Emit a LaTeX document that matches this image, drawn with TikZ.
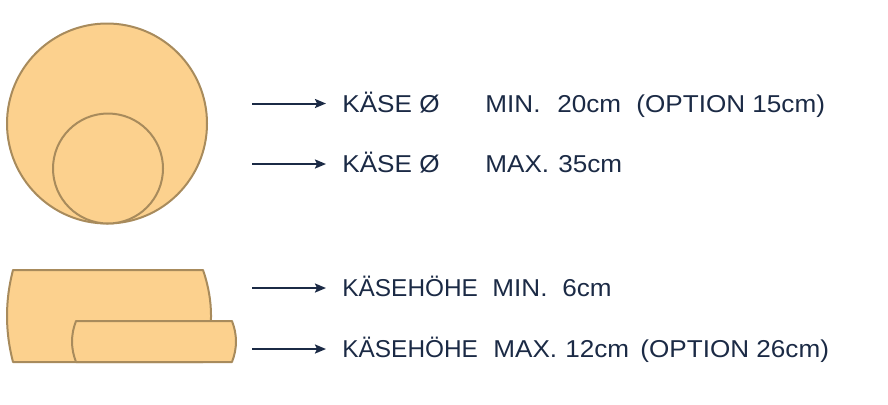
\documentclass[tikz,border=0pt]{standalone}
\usepackage{fontspec}
\setmainfont{Liberation Sans}
\usetikzlibrary{arrows.meta}
\definecolor{cheese}{HTML}{FCD18E}
\definecolor{rind}{HTML}{A88B5C}
\definecolor{ink}{HTML}{1B2A45}
\newcommand{\hs}[1]{\scalebox{1.07}[1]{#1}}
\begin{document}
\begin{tikzpicture}[x=0.5pt,y=-0.5pt,
  cheeseshape/.style={fill=cheese,draw=rind,line width=1pt,line join=round},
  lbl/.style={anchor=base west,inner sep=0pt,text=ink,font=\fontsize{12.2}{14}\selectfont},
  arr/.style={draw=ink,line width=1pt,-{Stealth[length=5.5pt,width=4.5pt,inset=1pt]}}]
\useasboundingbox (0,0) rectangle (888,404);
% circles
\draw[cheeseshape] (107,123.5) circle[radius=50pt];
\draw[cheeseshape] (108,168.5) circle[radius=27.5pt];
% big cylinder side view
\draw[cheeseshape] (13,270) -- (203,270)
  .. controls (213.7,300.7) and (213.7,331.3) .. (203,362)
  -- (13,362)
  .. controls (5,331.3) and (5,300.7) .. cycle;
% small cylinder side view
\draw[cheeseshape] (76,321) -- (232,321)
  .. controls (237.3,334.7) and (237.3,348.3) .. (232,362)
  -- (76,362)
  .. controls (70.7,348.3) and (70.7,334.7) .. cycle;
% arrows
\coordinate (s1) at (252,103.5); \coordinate (e1) at (326,103.5);
\coordinate (s2) at (252,164);   \coordinate (e2) at (326,164);
\coordinate (s3) at (252,288);   \coordinate (e3) at (326,288);
\coordinate (s4) at (252,349);   \coordinate (e4) at (326,349);
\draw[arr] (s1) -- (e1);
\draw[arr] (s2) -- (e2);
\draw[arr] (s3) -- (e3);
\draw[arr] (s4) -- (e4);
% row 1
\node[lbl] (r1a) at (342,112) {\hs{KÄSE Ø}};
\node[lbl] (r1b) at (485,112) {\hs{MIN.}};
\node[lbl] (r1c) at (557,112) {\hs{20cm}};
\node[lbl] (r1d) at (636,112) {\hs{(OPTION 15cm)}};
% row 2
\node[lbl] (r2a) at (342,172) {\hs{KÄSE Ø}};
\node[lbl] (r2b) at (485,172) {\hs{MAX.}};
\node[lbl] (r2c) at (558,172) {\hs{35cm}};
% row 3
\node[lbl] (r3a) at (342,296) {KÄSEHÖHE};
\node[lbl] (r3b) at (492,296) {\hs{MIN.}};
\node[lbl] (r3c) at (562,296) {\hs{6cm}};
% row 4
\node[lbl] (r4a) at (342,357) {KÄSEHÖHE};
\node[lbl] (r4b) at (493,357) {\hs{MAX.}};
\node[lbl] (r4c) at (565,357) {\hs{12cm}};
\node[lbl] (r4d) at (640,357) {\hs{(OPTION 26cm)}};
\end{tikzpicture}
\end{document}
